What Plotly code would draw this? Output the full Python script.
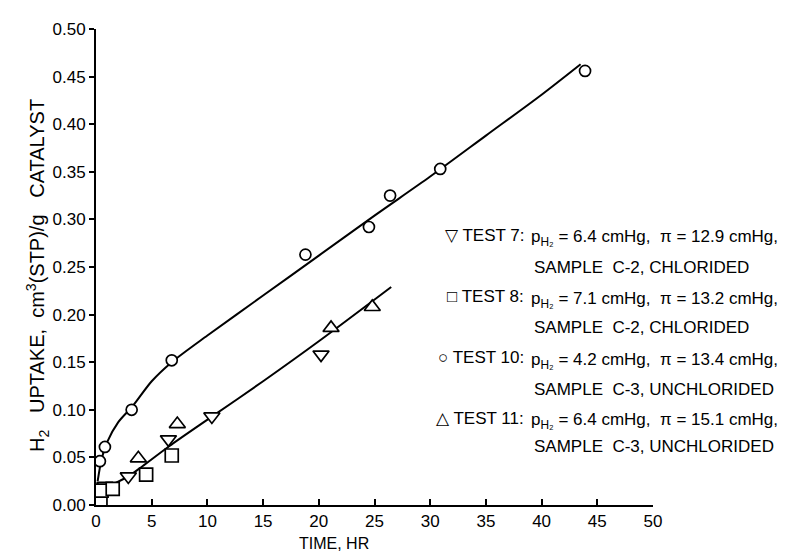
import plotly.graph_objects as go

# ---- data ----
t7_time = [0.8, 2.9, 6.5, 10.4, 20.2]
t7_uptake = [0.020, 0.030, 0.069, 0.093, 0.158]

t8_time = [0.4, 0.5, 1.5, 4.5, 6.8]
t8_uptake = [0.005, 0.015, 0.017, 0.032, 0.052]

t10_time = [0.35, 0.8, 3.2, 6.8, 18.8, 24.5, 26.4, 30.9, 43.9]
t10_uptake = [0.046, 0.061, 0.100, 0.152, 0.263, 0.292, 0.325, 0.353, 0.456]

t11_time = [3.8, 7.3, 21.1, 24.8]
t11_uptake = [0.049, 0.085, 0.186, 0.208]

# hand-drawn fitted curves
fit10_time = [0.15, 0.5, 1.0, 2.0, 3.3, 5.0, 6.8, 10.0, 15.0, 20.0, 25.0, 30.0, 35.0, 40.0, 43.5]
fit10_uptake = [0.025, 0.048, 0.066, 0.087, 0.104, 0.130, 0.150, 0.178, 0.220, 0.262, 0.304, 0.345, 0.388, 0.431, 0.463]

fit_low_time = [0.1, 1.2, 2.9, 4.2, 6.6, 10.3, 15.0, 20.0, 26.5]
fit_low_uptake = [0.014, 0.020, 0.030, 0.041, 0.062, 0.092, 0.130, 0.172, 0.229]

x_ticks = [0, 5, 10, 15, 20, 25, 30, 35, 40, 45, 50]
y_ticks = [0.00, 0.05, 0.10, 0.15, 0.20, 0.25, 0.30, 0.35, 0.40, 0.45, 0.50]

legend_heads = ["\u25bd TEST 7:", "\u25a1 TEST 8:", "\u25cb TEST 10:", "\u25b3 TEST 11:"]
legend_cond = [
    "p<sub>H\u2082</sub> = 6.4 cmHg,  \u03c0 = 12.9 cmHg,",
    "p<sub>H\u2082</sub> = 7.1 cmHg,  \u03c0 = 13.2 cmHg,",
    "p<sub>H\u2082</sub> = 4.2 cmHg,  \u03c0 = 13.4 cmHg,",
    "p<sub>H\u2082</sub> = 6.4 cmHg,  \u03c0 = 15.1 cmHg,",
]
legend_sample = [
    "SAMPLE  C-2, CHLORIDED",
    "SAMPLE  C-2, CHLORIDED",
    "SAMPLE  C-3, UNCHLORIDED",
    "SAMPLE  C-3, UNCHLORIDED",
]

FONT = "Liberation Sans Narrow, Liberation Sans, Arial, sans-serif"

fig = go.Figure()

for fx, fy in [(fit10_time, fit10_uptake), (fit_low_time, fit_low_uptake)]:
    fig.add_trace(go.Scatter(x=fx, y=fy, mode="lines",
                             line=dict(color="black", width=2, shape="spline", smoothing=0.8),
                             showlegend=False, hoverinfo="skip"))

def pts(x, y, symbol, size):
    fig.add_trace(go.Scatter(x=x, y=y, mode="markers",
                             marker=dict(symbol=symbol, size=size, color="white",
                                         line=dict(color="black", width=1.7)),
                             showlegend=False))

pts(t7_time, t7_uptake, "triangle-down", 14)
pts(t8_time, t8_uptake, "square", 13)
pts(t10_time, t10_uptake, "circle", 11)
pts(t11_time, t11_uptake, "triangle-up", 14)

# plot-area geometry (pixels)
L, R, T, B = 88, 645, 19, 497
W, H = 810, 553

def px(xp):
    return (xp - L) / (R - L)

def py(yp):
    return (B - yp) / (B - T)

annos = []
head_y = [226, 288, 349, 410]
samp_y = [258, 319, 381, 438]
for i in range(4):
    annos.append(dict(x=px(518), y=py(head_y[i]), xref="paper", yref="paper",
                      text=legend_heads[i], showarrow=False, xanchor="right", yanchor="middle",
                      font=dict(family=FONT, size=17, color="black")))
    annos.append(dict(x=px(521), y=py(head_y[i] + 3), xref="paper", yref="paper",
                      text=legend_cond[i], showarrow=False, xanchor="left", yanchor="middle",
                      font=dict(family=FONT, size=17, color="black")))
    annos.append(dict(x=px(524), y=py(samp_y[i]), xref="paper", yref="paper",
                      text=legend_sample[i], showarrow=False, xanchor="left", yanchor="middle",
                      font=dict(family=FONT, size=17, color="black")))

annos.append(dict(x=px(326), y=py(536), xref="paper", yref="paper", text="TIME, HR",
                  showarrow=False, xanchor="center", yanchor="middle",
                  font=dict(family=FONT, size=16, color="black")))
annos.append(dict(x=px(30), y=py(267), xref="paper", yref="paper",
                  text="H<sub>2</sub>   UPTAKE,  cm<sup>3</sup>(STP)/g   CATALYST",
                  showarrow=False, xanchor="center", yanchor="middle", textangle=-90,
                  font=dict(family=FONT, size=20, color="black")))

fig.update_layout(
    width=W, height=H,
    margin=dict(l=L, r=W - R, t=T, b=H - B),
    plot_bgcolor="white", paper_bgcolor="white",
    annotations=annos,
    xaxis=dict(range=[0, 50], tickvals=x_ticks, ticktext=[str(v) for v in x_ticks],
               showline=True, linecolor="black", linewidth=2, ticks="inside",
               ticklen=6, tickwidth=1.5, tickcolor="black", showgrid=False, zeroline=False,
               tickfont=dict(family=FONT, size=17, color="black")),
    yaxis=dict(range=[0, 0.5], tickvals=y_ticks, ticktext=["%.2f" % v for v in y_ticks],
               showline=True, linecolor="black", linewidth=2, ticks="outside",
               ticklen=5, tickwidth=1.5, tickcolor="black", showgrid=False, zeroline=False,
               tickfont=dict(family=FONT, size=17, color="black")),
)

fig.write_html("out.html")
